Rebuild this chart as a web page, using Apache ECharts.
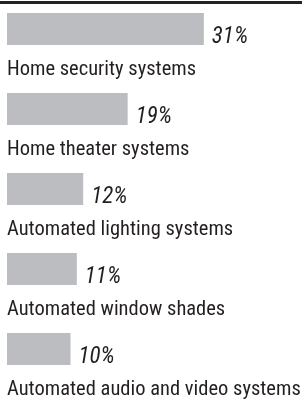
<!DOCTYPE html>
<html>
<head>
<meta charset="utf-8">
<script src="https://cdn.jsdelivr.net/npm/echarts@6/dist/echarts.min.js"></script>
<style>
  html, body { margin: 0; padding: 0; background: #fff; }
  #chart { width: 302px; height: 401px; }
</style>
</head>
<body>
<div id="chart"></div>
<script>
var categories = [
  "Home security systems",
  "Home theater systems",
  "Automated lighting systems",
  "Automated window shades",
  "Automated audio and video systems"
];
var shares = [31, 19, 12, 11, 10];

var font = '"Roboto Condensed", "Liberation Sans Narrow", sans-serif';
var chart = echarts.init(document.getElementById("chart"));
chart.setOption({
  animation: false,
  graphic: [{
    type: "rect",
    shape: { x: 0, y: 1, width: 302, height: 3 },
    style: { fill: "#222" }
  }],
  // bar centres sit on the category ticks (boundaryGap off)
  grid: { left: 7, top: 29, width: 254, height: 320 },
  xAxis: { type: "value", min: 0, max: 40, show: false },
  yAxis: {
    type: "category",
    data: categories,
    inverse: true,
    boundaryGap: false,
    show: false
  },
  series: [
    {
      type: "bar",
      data: shares,
      barWidth: 32,
      itemStyle: { color: "#bcbdc1" },
      label: {
        show: true,
        position: "right",
        distance: 8,
        offset: [0, 8],
        formatter: "{c}%",
        fontFamily: font,
        fontStyle: "italic",
        fontSize: 23,
        color: "#231f20"
      }
    },
    {
      // names under the bars
      type: "bar",
      data: shares,
      barWidth: 32,
      barGap: "-100%",
      itemStyle: { color: "transparent" },
      label: {
        show: true,
        position: [0, 57],
        align: "left",
        verticalAlign: "middle",
        formatter: function (p) { return p.name; },
        fontFamily: font,
        fontSize: 20.5,
        color: "#231f20"
      }
    }
  ]
});
</script>
</body>
</html>
